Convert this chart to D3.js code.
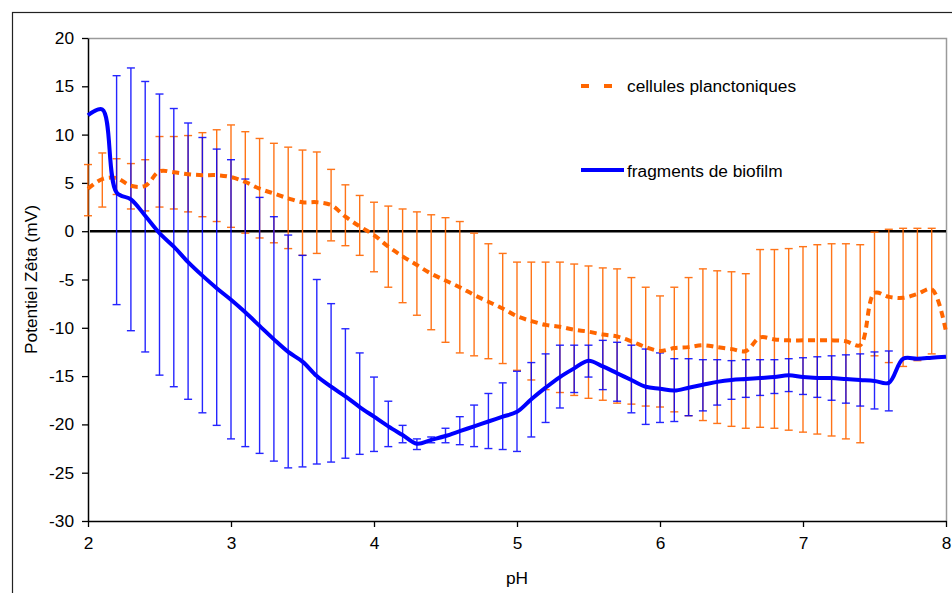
<!DOCTYPE html>
<html>
<head>
<meta charset="utf-8">
<script src="https://cdn.jsdelivr.net/npm/d3@7"></script>
<style>
body{margin:0;background:#fff}
text{font-family:"Liberation Sans",Arial,sans-serif}
</style>
</head>
<body>
<div id="viz"></div>
<script>
//Chart data

let pH = [2.0,2.1,2.2,2.3,2.4,2.5,2.6,2.7,2.8,2.9,
          3.0,3.1,3.2,3.3,3.4,3.5,3.6,3.7,3.8,3.9,
          4.0,4.1,4.2,4.3,4.4,4.5,4.6,4.7,4.8,4.9,
          5.0,5.1,5.2,5.3,5.4,5.5,5.6,5.7,5.8,5.9,
          6.0,6.1,6.2,6.3,6.4,6.5,6.6,6.7,6.8,6.9,
          7.0,7.1,7.2,7.3,7.4,7.5,7.6,7.7,7.8,7.9,8.0]

//fragments de biofilm
let biofilm = [12.0,12.6,4.0,3.3,1.6,-0.2,-1.6,-3.2,-4.6,-5.9,
               -7.1,-8.4,-9.8,-11.2,-12.5,-13.5,-15.0,-16.1,-17.1,-18.2,
               -19.2,-20.2,-21.1,-22.0,-21.6,-21.2,-20.7,-20.2,-19.7,-19.2,
               -18.7,-17.4,-16.2,-15.1,-14.2,-13.4,-14.0,-14.7,-15.4,-16.1,
               -16.3,-16.5,-16.2,-15.9,-15.6,-15.4,-15.3,-15.2,-15.1,-14.9,
               -15.1,-15.2,-15.2,-15.3,-15.4,-15.5,-15.7,-13.2,-13.2,-13.1,-13.0]
let biofilmHigh = [null,null,16.1,16.9,15.5,14.2,12.7,11.2,9.7,8.5,
                   7.4,5.4,3.5,1.5,-0.4,-2.5,-5.0,-7.5,-10.1,-12.6,
                   -15.1,-17.6,-20.1,-21.5,-21.3,-20.4,-19.2,-18.0,-16.8,-15.7,
                   -14.5,-13.6,-12.7,-11.8,-11.8,-11.8,-11.3,-11.5,-11.8,-12.2,
                   -12.6,-13.2,-13.2,-13.3,-13.3,-13.4,-13.3,-13.3,-13.3,-13.2,
                   -13.1,-13.0,-12.9,-12.8,-12.7,-12.5,-12.4,null,null,null,null]
let biofilmLow = [null,null,-7.6,-10.3,-12.5,-14.9,-16.1,-17.4,-18.8,-20.1,
                  -21.5,-22.3,-23.0,-23.8,-24.5,-24.4,-24.1,-23.9,-23.5,-23.1,
                  -22.8,-22.3,-21.9,-22.6,-21.9,-21.9,-22.1,-22.3,-22.5,-22.6,
                  -22.8,-21.3,-19.8,-18.3,-16.7,-15.1,-16.4,-17.6,-18.8,-20.0,
                  -19.8,-19.7,-19.1,-18.6,-18.0,-17.4,-17.2,-17.0,-16.8,-16.6,
                  -16.9,-17.2,-17.5,-17.8,-18.1,-18.4,-18.6,null,null,null,null]

//cellules planctoniques
let plancto = [4.4,5.4,5.5,4.7,4.7,6.2,6.1,5.9,5.8,5.8,
               5.6,5.1,4.4,3.9,3.4,3.0,3.0,2.7,1.5,0.5,
               -0.4,-1.6,-2.6,-3.5,-4.4,-5.1,-5.8,-6.6,-7.3,-8.0,
               -8.8,-9.3,-9.7,-9.9,-10.2,-10.4,-10.7,-10.9,-11.4,-12.0,
               -12.4,-12.1,-12.0,-11.8,-12.0,-12.2,-12.4,-11.0,-11.2,-11.3,
               -11.3,-11.3,-11.3,-11.4,-11.8,-6.4,-6.8,-6.9,-6.5,-6.0,-10.4]
let planctoHigh = [6.9,8.1,7.5,7.0,7.4,9.8,9.8,9.9,10.2,10.5,
                   11.0,10.3,9.6,9.1,8.7,8.4,8.2,6.4,4.8,3.7,
                   3.0,2.6,2.3,2.0,1.7,1.4,1.0,-0.2,-1.3,-2.3,
                   -3.2,-3.2,-3.2,-3.2,-3.4,-3.6,-3.8,-3.9,-4.8,-5.8,
                   -6.7,-5.8,-4.8,-3.9,-4.1,-4.2,-4.4,-1.9,-1.9,-1.8,
                   -1.6,-1.4,-1.3,-1.3,-1.4,-0.1,0.2,0.3,0.3,0.3,null]
let planctoLow = [1.6,2.5,3.8,2.3,2.1,2.5,2.3,2.0,1.5,1.0,
                  0.4,-0.2,-0.7,-1.2,-1.8,-2.5,-2.3,-1.0,-1.5,-2.5,
                  -4.2,-5.8,-7.4,-8.7,-10.2,-11.5,-12.6,-12.9,-13.2,-13.7,
                  -14.4,-15.4,-16.4,-16.7,-17.0,-17.3,-17.5,-17.8,-17.9,-18.1,
                  -18.2,-18.7,-19.1,-19.6,-19.9,-20.2,-20.4,-20.3,-20.4,-20.6,
                  -20.8,-21.0,-21.2,-21.5,-21.9,-12.9,-13.6,-14.0,-13.4,-12.7,null]

let yTicks = [-30,-25,-20,-15,-10,-5,0,5,10,15,20]
let xTicks = [2,3,4,5,6,7,8]
let seriesNames = ["cellules planctoniques","fragments de biofilm"]

//Layout
let width = 952
let height = 593
let plotLeft = 88, plotRight = 946, plotTop = 38, plotBottom = 521
let fontSize = 17.3
let orange = "#FF6600"
let blue = "#0000FF"

let svg = d3.select('#viz').append('svg').attr("width",width).attr("height",height)

//outer chart border
svg.append("rect").attr("x",12.5).attr("y",12.5).attr("width",width).attr("height",height)
   .attr("fill","none").attr("stroke","#222").attr("stroke-width",1.2)

let x = d3.scaleLinear().domain([2,8]).range([plotLeft,plotRight])
let y = d3.scaleLinear().domain([-30,20]).range([plotBottom,plotTop])

//plot area frame (grey top / right)
svg.append("path").attr("d",`M${plotLeft},${plotTop+0.5}H${plotRight+0.5}V${plotBottom}`)
   .attr("fill","none").attr("stroke","#9a9a9a").attr("stroke-width",1.5)

//axes (plain hyphen for negatives, as in the spreadsheet)
let yAxis = svg.append("g").attr("transform",`translate(${plotLeft},0)`)
   .call(d3.axisLeft(y).tickValues(yTicks).tickSize(6).tickSizeOuter(0).tickPadding(8).tickFormat(d=>String(d)))
let xAxis = svg.append("g").attr("transform",`translate(0,${plotBottom})`)
   .call(d3.axisBottom(x).tickValues(xTicks).tickSize(6).tickSizeOuter(0).tickPadding(10).tickFormat(d=>String(d)))

for(let ax of [yAxis,xAxis]){
    ax.select(".domain").attr("stroke","#000").attr("stroke-width",1.5)
    ax.selectAll(".tick line").attr("stroke","#000").attr("stroke-width",1.3)
    ax.selectAll(".tick text").attr("font-size",fontSize).attr("fill","#000")
      .attr("font-family","Liberation Sans, Arial, sans-serif")
}

//axis titles
svg.append("text").text("pH").attr("text-anchor","middle").attr("x",517).attr("y",584)
   .attr("font-size",fontSize).attr("fill","#000")
svg.append("text").text("Potentiel Zêta (mV)").attr("text-anchor","middle").attr("dominant-baseline","middle")
   .attr("transform",`translate(32,${(plotTop+plotBottom)/2}) rotate(-90)`)
   .attr("font-size",fontSize).attr("fill","#000")

//zero line
svg.append("line").attr("x1",plotLeft+2).attr("x2",plotRight).attr("y1",y(0)).attr("y2",y(0))
   .attr("stroke","#000").attr("stroke-width",2.5)

//error bars
function errorBars(high, low, color, opacity){
    let g = svg.append("g").attr("stroke",color).attr("stroke-width",1.4).attr("opacity",opacity)
    for(let i=0;i<pH.length;i++){
        if(high[i]==null || low[i]==null){continue}
        let px = x(pH[i])
        g.append("line").attr("x1",px).attr("x2",px).attr("y1",y(high[i])).attr("y2",y(low[i]))
        g.append("line").attr("x1",px-4).attr("x2",px+4).attr("y1",y(high[i])).attr("y2",y(high[i]))
        g.append("line").attr("x1",px-4).attr("x2",px+4).attr("y1",y(low[i])).attr("y2",y(low[i]))
    }
}
errorBars(planctoHigh, planctoLow, orange, 0.9)
errorBars(biofilmHigh, biofilmLow, blue, 0.85)

//mean curves (smoothed like the spreadsheet)
let line = d3.line().x((d,i)=>x(pH[i])).y(d=>y(d)).curve(d3.curveCatmullRom.alpha(0.5))

svg.append("path").datum(plancto).attr("d",line).attr("fill","none")
   .attr("stroke",orange).attr("stroke-width",4).attr("stroke-dasharray","7,5")
svg.append("path").datum(biofilm).attr("d",line).attr("fill","none")
   .attr("stroke",blue).attr("stroke-width",4).attr("stroke-linejoin","round")

//legend
svg.append("line").attr("x1",581).attr("x2",620).attr("y1",86).attr("y2",86)
   .attr("stroke",orange).attr("stroke-width",4).attr("stroke-dasharray","8,15")
svg.append("text").text(seriesNames[0]).attr("x",627).attr("y",87).attr("dominant-baseline","middle")
   .attr("font-size",fontSize).attr("fill","#000")
svg.append("line").attr("x1",581).attr("x2",624).attr("y1",170).attr("y2",170)
   .attr("stroke",blue).attr("stroke-width",4)
svg.append("text").text(seriesNames[1]).attr("x",627).attr("y",172).attr("dominant-baseline","middle")
   .attr("font-size",fontSize).attr("fill","#000")
</script>
</body>
</html>
